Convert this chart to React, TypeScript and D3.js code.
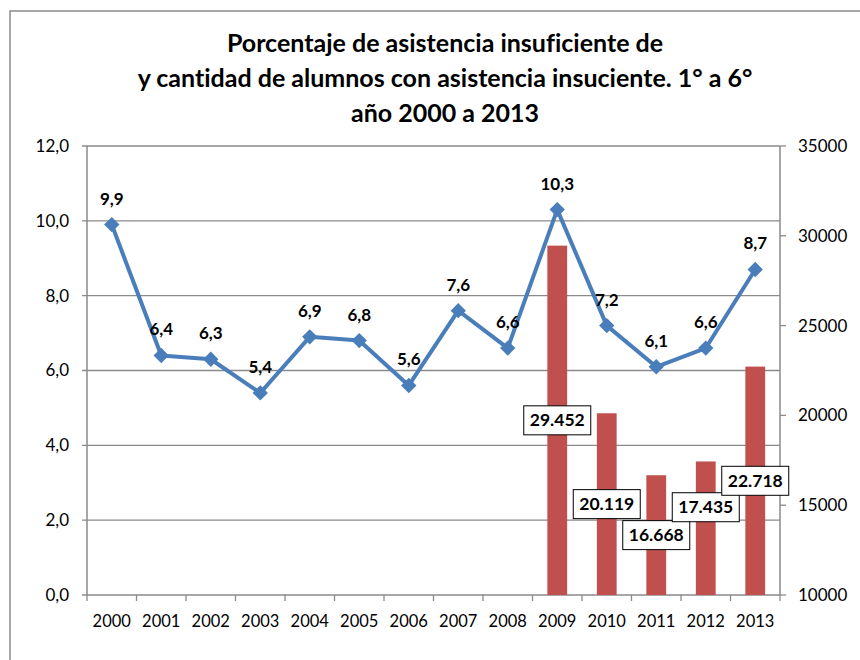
import React from "react";
import * as d3 from "d3";

const years = ["2000","2001","2002","2003","2004","2005","2006","2007","2008","2009","2010","2011","2012","2013"];
const pctValues = [9.9, 6.4, 6.3, 5.4, 6.9, 6.8, 5.6, 7.6, 6.6, 10.3, 7.2, 6.1, 6.6, 8.7];
const barYears = ["2009","2010","2011","2012","2013"];
const barValues = [29452, 20119, 16668, 17435, 22718];
const leftTicks = [0, 2, 4, 6, 8, 10, 12];
const rightTicks = [10000, 15000, 20000, 25000, 30000, 35000];
const titleLines = [
  "Porcentaje de asistencia insuficiente de",
  "y cantidad de alumnos con asistencia insuciente. 1° a 6°",
  "año 2000 a 2013",
];

const FONT = "Lato, 'Open Sans', sans-serif";
const GRID = "#8a8a8a";
const LINE = "#4a7ebb";
const BAR = "#c0504d";

export default function App() {
  const W = 860, H = 660;
  const left = 87, right = 780, top = 146, bottom = 595;
  const x = d3.scaleBand<string>().domain(years).range([left, right]).paddingInner(0).paddingOuter(0);
  const yL = d3.scaleLinear().domain([0, 12]).range([bottom, top]);
  const yR = d3.scaleLinear().domain([10000, 35000]).range([bottom, top]);
  const bw = x.bandwidth();
  const barW = bw * 0.4;
  const cx = (yr: string) => (x(yr) as number) + bw / 2;
  const fmtPct = (v: number) => v.toFixed(1).replace(".", ",");
  const fmtCount = (v: number) => d3.format(",")(v).replace(/,/g, ".");
  const fmtLeft = (v: number) => v.toFixed(1).replace(".", ",");
  const line = d3.line<number>().x((_, i) => cx(years[i])).y((d) => yL(d));
  const barLabelNudge = [0, 0, 0, -21, 0];
  const diamond = d3.symbol().type(d3.symbolDiamond2).size(150)();
  const boundaries = d3.range(years.length + 1).map((i) => left + i * bw);

  return (
    <svg width={W} height={H} style={{ position: "absolute", left: 0, top: 0, background: "#fff", fontVariantLigatures: "none" }} fontFamily={FONT}>
      <rect x={10} y={11} width={W} height={H} fill="#fff" stroke={GRID} strokeWidth={1.5} />
      {titleLines.map((t, i) => (
        <text key={i} x={445} y={52 + i * 35} textAnchor="middle" fontSize={25} fontWeight={700} fill="#000">{t}</text>
      ))}
      {leftTicks.map((t) => (
        <g key={t}>
          <line x1={left - 5} x2={right} y1={yL(t)} y2={yL(t)} stroke={GRID} strokeWidth={1.3} />
          <text x={69} y={yL(t)} dy="0.35em" textAnchor="end" fontSize={17} fill="#000">{fmtLeft(t)}</text>
        </g>
      ))}
      <line x1={left} x2={left} y1={top} y2={bottom} stroke={GRID} strokeWidth={1.5} />
      <line x1={right} x2={right} y1={top} y2={bottom} stroke={GRID} strokeWidth={1.5} />
      {rightTicks.map((t) => (
        <g key={t}>
          <line x1={right} x2={right + 6} y1={yR(t)} y2={yR(t)} stroke={GRID} strokeWidth={1.3} />
          <text x={798} y={yR(t)} dy="0.35em" textAnchor="start" fontSize={17} fill="#000">{t}</text>
        </g>
      ))}
      {boundaries.map((b, i) => (
        <line key={i} x1={b} x2={b} y1={bottom} y2={bottom + 6} stroke={GRID} strokeWidth={1.3} />
      ))}
      {years.map((yr) => (
        <text key={yr} x={cx(yr)} y={627} textAnchor="middle" fontSize={16.5} fill="#000">{yr}</text>
      ))}
      {barYears.map((yr, i) => (
        <rect key={yr} x={cx(yr) - barW / 2} y={yR(barValues[i])} width={barW} height={bottom - yR(barValues[i])} fill={BAR} />
      ))}
      <path d={line(pctValues) || ""} fill="none" stroke={LINE} strokeWidth={4} strokeLinejoin="round" />
      {pctValues.map((v, i) => (
        <path key={i} d={diamond || ""} transform={`translate(${cx(years[i])},${yL(v)})`} fill={LINE} />
      ))}
      {pctValues.map((v, i) => (
        <text key={i} x={cx(years[i])} y={yL(v) - 26} dy="0.35em" textAnchor="middle" fontSize={17} fontWeight={700} fill="#000">{fmtPct(v)}</text>
      ))}
      {barYears.map((yr, i) => {
        const my = (yR(barValues[i]) + bottom) / 2 + barLabelNudge[i];
        const bwid = 67, bh = 29;
        return (
          <g key={yr}>
            <rect x={cx(yr) - bwid / 2} y={my - bh / 2} width={bwid} height={bh} fill="#fff" stroke="#000" strokeWidth={1} />
            <text x={cx(yr)} y={my} dy="0.35em" textAnchor="middle" fontSize={17.5} fontWeight={700} fill="#000">{fmtCount(barValues[i])}</text>
          </g>
        );
      })}
    </svg>
  );
}
